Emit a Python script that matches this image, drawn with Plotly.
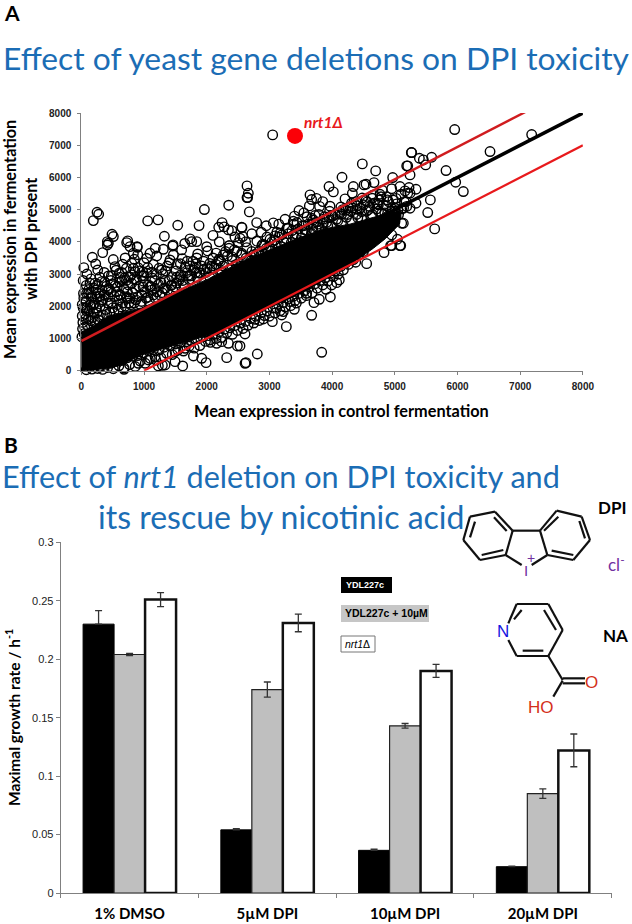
import plotly.graph_objects as go

W, H = 632, 924
TITLE_BLUE = '#1b6db5'
RED = '#e8191c'


def px(x):
    return x / W


def py(y):
    return 1 - y / H


# Panel A: isolated genes (control, DPI)
gene_x = [251, 277, 192, 490, 511, 416, 740, 889, 1059, 1224, 1325, 1538, 1734, 1841, 1878, 1963, 2351, 2245, 2192, 2277,
          2346, 2558, 2532, 2356, 1463, 2643, 2643, 3052, 4482, 4695, 4158, 3951, 4020, 2664, 2653, 2680, 2797, 3063, 3472,
          3637, 3648, 3674, 4339, 4509, 4541, 4668, 4966, 5190, 5264, 3967, 4206, 4323, 4642, 4764, 3382, 3392, 3727, 3674,
          3988, 4259, 4392, 4472, 4881, 5083, 5163, 5243, 5136, 4738, 2563, 2574, 3169, 3089, 3010, 2893, 3302, 3568, 3701,
          4126, 3860, 5955, 7183, 6519, 5269, 5392, 5455, 5588, 5493, 5206, 5243, 5817, 5971, 6093, 5338, 5227, 5206, 5338,
          5567, 5525, 5636, 5243, 5083, 4951, 5041, 4951, 5110, 5004]
gene_y = [4919, 4857, 4660, 4236, 4164, 4008, 4029, 3853, 4650, 4681, 4174, 4516, 4091, 4008, 4505, 5002, 5137, 4598, 4454, 4464,
          4371, 4454, 4112, 3884, 3905, 5737, 5375, 7320, 6420, 6203, 6006, 5716, 5551, 5509, 5375, 4930, 4598, 4588, 4971,
          5116, 5458, 5313, 5716, 5768, 5789, 5840, 5996, 6358, 6772, 5106, 5333, 5509, 5354, 5478, 4640, 4547, 4816, 4733,
          4816, 5064, 5012, 4940, 5302, 5716, 5582, 5509, 4578, 5147, 4443, 4164, 4267, 4184, 4081, 3926, 4423, 4371, 4578,
          4888, 4578, 7486, 7331, 6803, 6772, 6596, 6544, 6627, 6389, 6358, 6079, 6213, 5851, 5561, 5633, 5685, 5509, 5199,
          5302, 4909, 4402, 5043, 3884, 3884, 4081, 4215, 4578, 4629]

# upper left of the cloud
upper_x = [176, 341, 230, 262, 416, 432, 724, 777, 894, 830, 846, 804, 830, 1043, 1096, 1203, 1309, 1458, 1468, 1415, 1761, 1857,
           2016, 2362, 2356, 2505, 2558, 2197, 2266, 2399, 538, 660, 602, 432, 139, 325, 1282, 1123, 1043, 857, 963, 1272, 1442,
           1575, 1655, 1734, 1814, 1894, 2053, 2239, 618, 804, 1070, 1112, 1176, 113, 272, 432, 618, 724, 963, 1442, 1734, 60, 192,
           20, 60, 25, 90, 130, 75, 160, 210, 110, 45, 180, 250, 300, 340, 270, 390, 430, 480, 520, 560, 600, 640, 680, 720, 760,
           820, 870, 920, 960, 1010, 1060, 1120, 1180, 1230, 1290, 1340, 1400, 1460, 1520, 1590, 1650, 1720, 1790, 1850, 1920,
           1990, 2050, 2120, 2190, 2260, 2330, 2410, 2480, 2560, 2640, 2720, 2800, 2880, 2960, 3040, 3120, 3200, 3280, 3360, 3440,
           3520, 3600, 3700, 3790, 3880, 3960, 4050, 4140, 4220, 4310, 4400, 4480, 4560, 4650, 4720, 4800, 4870, 4950, 5020, 5100,
           5180, 35, 15, 120, 200, 260, 330, 400, 470, 540, 610, 690, 750, 800, 880, 930, 990, 1060, 1130, 1200, 1300, 1370, 1510,
           1580, 1680, 1780, 1830,
           10, 15, 30, 55, 70, 85, 100, 140, 150, 170, 190, 220, 235, 255, 290, 310, 350, 365, 405, 420, 455, 470, 500, 530, 575, 590,
           625, 660, 700, 735, 780, 790, 845, 860, 900, 945, 985, 1030, 1085, 1095, 1150, 1205, 1255, 1315, 1375, 1430, 1490, 1555,
           1620, 1700, 1760, 1825, 1880, 1950, 2010, 2080, 2150, 2220, 40, 85, 150, 235, 300, 375, 440, 500, 575, 650, 720, 840, 1000,
           1170, 1340, 1520]
upper_y = [3521, 3666, 3314, 3127, 3904, 3956, 3976, 3852, 3831, 3645, 3459, 3334, 3179, 3490, 3645, 3562, 3769, 3873, 3593, 3438, 4007, 3624,
           3717, 3883, 3800, 3976, 3645, 3459, 3593, 3541, 3231, 3303, 3024, 2941, 2714, 2765, 3127, 3055, 3024, 3076, 2941, 2734, 2921,
           2921, 3210, 3252, 3179, 3024, 3148, 3076, 2900, 2714, 2662, 2610, 2558, 2403, 2403, 2506, 2351, 2248, 2351, 2662, 2941, 1937, 2041,
           1300, 1750, 1500, 1950, 1850, 2150, 2250, 2100, 1600, 1150, 1650, 1800, 2000, 2200, 1580, 1900, 2300, 2100, 1820, 2450, 2200, 1980, 2550, 2300, 2100,
           2420, 2200, 2620, 2150, 2450, 2280, 2500, 2250, 2680, 2420, 2560, 2800, 2500, 2720, 2980, 2650, 2830, 3120, 2900, 3250,
           3050, 3330, 3180, 3420, 3250, 3560, 3420, 3700, 3600, 3820, 3700, 4020, 3880, 4150, 4000, 4300, 4220, 4420, 4350, 4600,
           4500, 4780, 4680, 4850, 4780, 4950, 4850, 5080, 4980, 5200, 5120, 5360, 5240, 5450, 5180, 5600, 5400, 5650, 5350, 5480,
           5250, 2400, 2050, 2520, 2560, 2680, 2500, 2620, 2800, 2640, 2750, 2880, 2660, 2980, 2820, 3100, 2780, 3200, 2880, 2990, 3010, 3250, 3100,
           3320, 3040, 3400, 3320,
           1050, 1700, 1950, 1350, 1620, 1850, 1400, 2050, 1550, 2300, 1800, 1500, 1950, 2300, 1680, 2150, 1720, 2350, 1750, 2100, 1800, 2450, 1950, 2300, 2050, 1900,
           2350, 2100, 2000, 2450, 2250, 2050, 2100, 2550, 2300, 2050, 2600, 2250, 2150, 2600, 2350, 2450, 2350, 2550, 2500, 2650, 2600, 2800,
           2800, 2950, 2950, 3050, 3050, 3150, 3200, 3250, 3300, 3400, 2250, 2400, 2400, 2500, 2320, 2750, 2550, 2700, 2600, 2800, 2800, 2850, 2950,
           2800, 2800, 2900]

# top edge of the solid part, right half
top_x = [2050, 2130, 2220, 2300, 2380, 2470, 2550, 2630, 2710, 2790, 2870, 2950, 3030, 3110, 3190, 3270, 3350, 3430, 3510, 3590, 3670, 3750, 3830,
         3910, 3990, 4070, 4150, 4230, 4310, 4390, 4470, 4550, 4630, 4710, 4790, 4870, 4950, 5030, 5110, 5190, 4600, 4750, 4900, 5000, 4300, 4450,
         4150, 3950, 3750, 3550]
top_y = [2900, 2780, 3050, 2950, 3180, 3300, 3250, 3500, 3420, 3620, 3560, 3800, 3720, 3930, 3850, 4100, 3980, 4240, 4130, 4350, 4260, 4460, 4380,
         4600, 4490, 4700, 4590, 4760, 4650, 4850, 4720, 4950, 4790, 5020, 4880, 5120, 4950, 5180, 5020, 5100, 5100, 5300, 5250, 5050, 4950, 5050,
         4850, 4750, 4620, 4500]

# between the solid part and the upper red line, and the loose genes above it
clutter_x = [2750, 2830, 2920, 3000, 3080, 3150, 3230, 3300, 3380, 3460, 3530, 3620, 3690, 3780, 3860, 3930, 4010, 4090, 4170, 4250, 4330, 4410,
             4500, 4580, 4660, 4740, 4820, 4890, 4970, 5050, 5150, 4780, 4540, 4380, 4640, 4840,
             80, 155, 220, 295, 365, 480, 555, 645, 720, 770, 905, 980, 1000, 1150, 1240, 1345, 1400, 1530, 1610, 1690, 1840, 1950, 2100, 2150,
             2300, 2440, 510, 700, 900, 1180, 90, 30, 40, 1600, 2000, 2620, 2720, 2450, 2200, 2100, 1650, 2870, 2950, 2400, 3150, 3250, 3400,
             3550, 3800, 3850, 3750]
clutter_y = [3600, 3700, 3900, 3850, 4050, 4150, 4000, 4250, 4200, 4400, 4300, 4550, 4400, 4550, 4700, 4500, 4800, 4650, 5000, 4850, 5050, 4750,
             5150, 5000, 5200, 4950, 5150, 4800, 5300, 5000, 5250, 5400, 5280, 5250, 4850, 4900,
             2650, 2850, 2720, 2900, 3050, 2950, 3120, 3050, 3180, 2900, 3200, 3060, 3350, 3300, 3180, 3100, 3350, 3300, 3480, 3400, 3500, 3400, 3500, 3650,
             3700, 3750, 3450, 3500, 3600, 3800, 3000, 2800, 3200, 3750, 3850, 4000, 4250, 4150, 4000, 4200, 3950, 4300, 4500, 4350, 4550, 4700, 4800,
             4900, 5100, 5250, 5350]

# lower edge of the cloud
lower_x = [682, 1229, 1293, 1336, 1617, 1495, 1788, 1920, 1990, 2319, 2489, 2239, 2346, 2160, 2612, 2053, 1655, 1495, 1176, 1070, 910,
           3834, 2807, 2627, 2611, 2531, 3270, 3047, 2903, 3674, 3398, 3711, 3796, 3972, 3903, 3408, 3196, 3594, 4551, 4828, 4934, 5094,
           4376, 4115, 4073, 3993, 2770, 3222, 3116, 3329,
           5140, 5060, 4980, 4900, 4820, 4740, 4660, 4580, 4500, 4420, 4340, 4260, 4180, 4100, 4020, 3930, 3850, 3760, 3680, 3590, 3510,
           3430, 3340, 3250, 3170, 3090, 3000, 2920, 2840, 2750, 2660, 2580, 2490, 2410, 2320, 2240, 2150, 2060, 1980, 1890, 1800, 1720,
           1630, 1540, 1450, 1360, 1270, 1190, 1100, 1020, 940, 860, 770, 680, 600, 510, 420, 340, 260,
           80, 170, 300, 400, 470, 550, 650, 730, 820, 900, 990, 1080, 1150, 1240, 1320, 1420, 1500, 1580, 1680, 1760, 1850, 1940, 2030,
           2100, 2200, 2280, 2370, 2450, 2540, 2620, 2700, 2780, 2870, 2960, 3060, 3140, 3220, 3300, 3390, 3470, 3560, 3640, 3730, 3810,
           3890, 3970, 4050, 4140, 4220, 4300, 4390, 4470, 4550, 4630, 4700, 4780, 4860, 4940, 5010]
lower_y = [43, 147, 167, 178, 147, 281, 457, 385, 250, 405, 768, 902, 850, 850, 230, 954, 695, 592, 437, 333, 230,
           571, 519, 250, 1140, 768, 1368, 1523, 1606, 1720, 1906, 2113, 2217, 2289, 2527, 2175, 1730, 2403, 3324, 3666, 3883, 3883,
           3366, 2817, 2734, 2662, 1596, 1834, 1937, 2144,
           5050, 4850, 4700, 4550, 4350, 4200, 4050, 3900, 3700, 3600, 3450, 3300, 3130, 3000, 2920, 2780, 2660, 2560, 2420, 2330, 2250,
           2100, 2020, 1980, 1860, 1790, 1690, 1710, 1560, 1480, 1410, 1310, 1250, 1130, 1180, 1030, 1000, 880, 910, 780, 700, 760,
           610, 640, 500, 540, 400, 330, 380, 230, 300, 130, 190, 90, 150, 60, 100, 40, 70,
           30, 50, 130, 200, 230, 300, 320, 400, 450, 470, 540, 610, 650, 640, 730, 770, 830, 860, 900, 930, 990, 1050, 1090,
           1130, 1210, 1290, 1330, 1400, 1480, 1530, 1620, 1690, 1800, 1850, 1950, 2060, 2120, 2230, 2320, 2400, 2480, 2600, 2700, 2800,
           2880, 3020, 3100, 3240, 3350, 3500, 3640, 3780, 3940, 4120, 4280, 4450, 4650, 4800, 4950]

# outline of the part of the cloud that is solid black
cloud_x = [-30, 0, 200, 432, 963, 1495, 2027, 2612, 3063, 3329, 3860, 4285, 4658, 4950, 5080, 5100, 5050, 4850, 4658,
           4392, 4020, 3594, 3222, 2850, 2531, 2133, 1761, 1389, 963, 590, 219, 30]
cloud_y = [60, 1200, 1400, 1700, 1950, 2400, 2850, 3440, 3800, 4008, 4400, 4550, 4760, 4900, 4950, 4800, 4500, 4100, 3800,
           3438, 2972, 2506, 2144, 1834, 1523, 1161, 954, 747, 488, 147, 20, -40]

nrt1_x = [3408]
nrt1_y = [7289]

identity_x = [0, 8000]
identity_y = [0, 8000]
upper_line_x = [0, 7090]
upper_line_y = [920, 8040]
lower_line_x = [1000, 8000]
lower_line_y = [0, 7000]

# Panel B
conditions = ['1% DMSO', '5µM DPI', '10µM DPI', '20µM DPI']
ydl = [0.23, 0.054, 0.0365, 0.0225]
ydl_err_up = [0.0115, 0.001, 0.001, 0.0005]
ydl_na = [0.204, 0.174, 0.143, 0.085]
ydl_na_err = [0.001, 0.0065, 0.002, 0.004]
nrt1 = [0.251, 0.231, 0.19, 0.122]
nrt1_err = [0.006, 0.0075, 0.0055, 0.014]
rate_ticks = [0, 0.05, 0.1, 0.15, 0.2, 0.25, 0.3]
rate_labels = ['0', '0.05', '0.1', '0.15', '0.2', '0.25', '0.3']
expr_ticks = [0, 1000, 2000, 3000, 4000, 5000, 6000, 7000, 8000]

fig = go.Figure()

fig.add_trace(go.Scatter(x=cloud_x, y=cloud_y, mode='lines', fill='toself', fillcolor='black',
                         line=dict(color='black', width=1), hoverinfo='skip'))
fig.add_trace(go.Scatter(x=gene_x + upper_x + top_x + clutter_x + lower_x, y=gene_y + upper_y + top_y + clutter_y + lower_y,
                         mode='markers', cliponaxis=False,
                         marker=dict(symbol='circle-open', size=9.5, color='black', line=dict(color='black', width=1.4))))
fig.add_trace(go.Scatter(x=identity_x, y=identity_y, mode='lines', line=dict(color='black', width=3.5)))
fig.add_trace(go.Scatter(x=upper_line_x, y=upper_line_y, mode='lines', line=dict(color='#d01c1f', width=2.4)))
fig.add_trace(go.Scatter(x=lower_line_x, y=lower_line_y, mode='lines', line=dict(color=RED, width=2.2)))
fig.add_trace(go.Scatter(x=nrt1_x, y=nrt1_y, mode='markers', marker=dict(size=16, color='#fb0007')))

err_style = dict(type='data', visible=True, color='#333333', thickness=1.3, width=3.5)
fig.add_trace(go.Bar(x=conditions, y=ydl, xaxis='x2', yaxis='y2', marker=dict(color='black', line=dict(color='black', width=1)),
                     error_y=dict(array=ydl_err_up, arrayminus=[0, 0, 0, 0], **err_style)))
fig.add_trace(go.Bar(x=conditions, y=ydl_na, xaxis='x2', yaxis='y2', marker=dict(color='#bfbfbf', line=dict(color='#222222', width=1.2)),
                     error_y=dict(array=ydl_na_err, **err_style)))
fig.add_trace(go.Bar(x=conditions, y=nrt1, xaxis='x2', yaxis='y2', marker=dict(color='white', line=dict(color='#111111', width=2.5)),
                     error_y=dict(array=nrt1_err, **err_style)))

# legend boxes are placed by hand like the original
shapes = []


def box(x0, y0, x1, y1, fill, line='rgba(0,0,0,0)', width=0):
    shapes.append(dict(type='rect', xref='paper', yref='paper', x0=px(x0), x1=px(x1), y0=py(y0), y1=py(y1),
                       fillcolor=fill, line=dict(color=line, width=width)))


def bond(x0, y0, x1, y1, color='#111111', width=2.2):
    # positions are in the 3x crop of the molecule area
    shapes.append(dict(type='line', xref='paper', yref='paper', x0=px(340 + x0 / 3), x1=px(340 + x1 / 3),
                       y0=py(460 + y0 / 3), y1=py(460 + y1 / 3), line=dict(color=color, width=width)))


box(341, 577, 392, 593, 'black')
box(341, 605, 429, 622, '#c6c6c6')
box(341, 636, 375, 652, 'white', '#777777', 1)

dpi_bonds = [(465, 155, 518, 212), (518, 212, 497, 285), (497, 285, 420, 300), (420, 300, 370, 240), (370, 240, 390, 170),
             (390, 170, 465, 155), (600, 212, 650, 152), (650, 152, 725, 170), (725, 170, 750, 240), (750, 240, 700, 300),
             (700, 300, 622, 285), (622, 285, 600, 212), (518, 212, 600, 212), (497, 285, 545, 315), (622, 285, 575, 315),
             (390, 232, 405, 185), (462, 172, 500, 213), (425, 285, 490, 270), (612, 212, 655, 170), (718, 183, 735, 235),
             (700, 285, 635, 272)]
na_bonds = [(505, 490, 530, 432), (530, 432, 625, 432), (625, 432, 668, 510), (668, 510, 625, 588), (625, 588, 530, 588),
            (530, 588, 505, 540), (522, 478, 545, 450), (612, 450, 648, 510), (610, 572, 548, 572), (625, 588, 668, 660),
            (668, 655, 735, 655), (668, 670, 735, 670), (668, 662, 640, 710)]
for b in dpi_bonds + na_bonds:
    bond(*b)


def note(x, y, text, size, color='black', family='Lato', anchor='center', angle=0):
    return dict(xref='paper', yref='paper', x=px(x), y=py(y), text=text, showarrow=False, xanchor=anchor, yanchor='middle',
                textangle=angle, font=dict(size=size, color=color, family=family))


B = 'Liberation Sans'
annotations = [
    note(2, 12, '<b>A</b>', 21, anchor='left'),
    note(2, 444, '<b>B</b>', 21, anchor='left'),
    note(316, 58, 'Effect of yeast gene deletions on DPI toxicity', 31.8, TITLE_BLUE),
    note(281, 476, 'Effect of <i>nrt1</i> deletion on DPI toxicity and', 30.6, TITLE_BLUE),
    note(281, 516, 'its rescue by nicotinic acid', 32, TITLE_BLUE),
    note(341, 411, '<b>Mean expression in control fermentation</b>', 16.3),
    note(10, 240, '<b>Mean expression in fermentation</b>', 16.3, angle=-90),
    note(31, 239, '<b>with DPI present</b>', 16.3, angle=-90),
    note(302, 122, '<b><i>nrt1Δ</i></b>', 15.5, RED, anchor='left'),
    note(12, 718, '<b>Maximal growth rate / h<sup>-1</sup></b>', 15.5, angle=-90),
    note(344, 585, '<b>YDL227c</b>', 9, 'white', B, 'left'),
    note(343, 613, '<b>YDL227c + 10µM</b>', 10.5, 'black', B, 'left'),
    note(343, 644, '<i>nrt1</i>Δ', 10.5, 'black', B, 'left'),
    note(612, 507, '<b>DPI</b>', 17),
    note(615, 635, '<b>NA</b>', 17),
    note(616, 563, 'cl<sup>-</sup>', 17, '#7030a0'),
    note(526, 570, 'I', 15, '#7030a0', B),
    note(531, 558, '+', 14, '#7030a0', B),
    note(503, 631, 'N', 17, '#1414e0', B),
    note(591, 682, 'O', 17, '#d4301a', B),
    note(541, 707, 'HO', 17, '#d4301a', B),
]

fig.update_layout(
    width=W, height=H, margin=dict(l=0, r=0, t=0, b=0), showlegend=False, plot_bgcolor='white', paper_bgcolor='white',
    barmode='group', bargap=0.325, bargroupgap=0, shapes=shapes, annotations=annotations,
    xaxis=dict(domain=[px(81.3), px(582.9)], range=[0, 8000], anchor='y', tickvals=expr_ticks, ticks='outside', ticklen=3,
               automargin=False, ticklabelstandoff=3, showgrid=False, zeroline=False, showline=True, linecolor='#808080',
               tickcolor='#808080', tickfont=dict(family=B, size=10, color='#222222', weight='bold')),
    yaxis=dict(domain=[py(370.7), py(113)], range=[0, 8000], anchor='x', tickvals=expr_ticks, ticks='outside', ticklen=3,
               automargin=False, ticklabelstandoff=4, showgrid=False, zeroline=False, showline=True, linecolor='#808080',
               tickcolor='#808080', tickfont=dict(family=B, size=10, color='#222222', weight='bold')),
    xaxis2=dict(domain=[px(60.7), px(611.7)], anchor='y2', tickson='boundaries', ticks='outside', ticklen=4, showgrid=False,
                automargin=False, ticklabelstandoff=7, showline=True, linecolor='#808080', tickcolor='#808080',
                tickfont=dict(family='Lato', size=15, color='black', weight='bold')),
    yaxis2=dict(domain=[py(893), py(542.3)], range=[0, 0.3], anchor='x2', tickvals=rate_ticks, ticktext=rate_labels, ticks='outside',
                automargin=False, ticklen=4, showgrid=False, zeroline=False, showline=True, linecolor='#808080', tickcolor='#808080',
                tickfont=dict(family=B, size=11, color='#222222')),
)

fig.write_html("out.html", config={'displayModeBar': False}, post_script="document.body.style.margin='0'")
